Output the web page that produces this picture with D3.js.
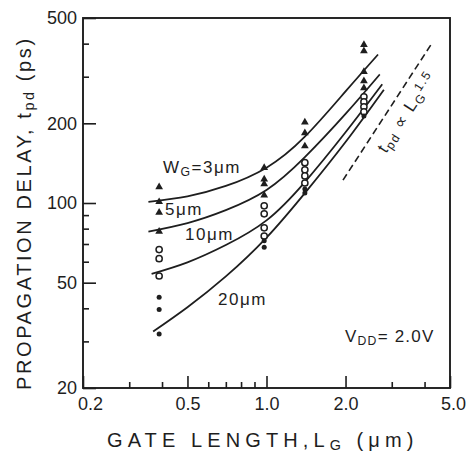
<!DOCTYPE html>
<html><head><meta charset="utf-8">
<script src="https://cdn.jsdelivr.net/npm/d3@7"></script>
<style>
body{margin:0;background:#fff}
svg{display:block}
text{font-family:"Liberation Sans",Arial,sans-serif;fill:#1e1e1e}
</style>
</head><body><svg id="c" width="470" height="456"></svg>
<script>
// ---- tick values / labels ----
const xMajorTicks = [0.2, 0.5, 1.0, 2.0, 5.0];
const xTickLabels = ["0.2", "0.5", "1.0", "2.0", "5.0"];
const xMinorTicks = [0.3, 0.4, 0.6, 0.7, 0.8, 0.9, 3, 4];
const yMajorTicks = [20, 50, 100, 200, 500];
const yTickLabels = ["20", "50", "100", "200", "500"];
const yMinorTicks = [30, 40, 60, 70, 80, 90, 300, 400];

// ---- measured points (gate length um, delay ps) ----
const triL = [0.39,0.39,0.39,0.39, 0.98,0.98,0.98,0.98, 1.4,1.4,1.4, 2.35,2.35,2.35,2.35,2.35];
const triT = [115,101,92,78, 136,123,118,107, 202,184,164, 396,375,313,289,272];
const openL = [0.39,0.39,0.39, 0.98,0.98,0.98,0.98, 1.4,1.4,1.4,1.4, 2.35,2.35,2.35,2.35];
const openT = [66.7,61.6,53, 97.6,91,80.6,75, 142,133.5,126.6,119, 252,241,231,221];
const dotL = [0.39,0.39,0.39, 0.98,0.98, 1.4,1.4, 2.35];
const dotT = [44,39.6,32, 72,68, 113,109, 213];

// ---- fitted curves for each gate width ----
const curveW3L  = [0.355,0.5,0.7,1.0,1.4,2.0,2.66];
const curveW3T  = [101,106,116,136,178,264,364];
const curveW5L  = [0.355,0.5,0.7,1.0,1.4,2.0,2.7];
const curveW5T  = [78,84,94,112,149,217,306];
const curveW10L = [0.365,0.5,0.7,1.0,1.4,2.0,2.76];
const curveW10T = [54,59.7,69.4,86,120,185,281];
const curveW20L = [0.37,0.5,0.7,1.0,1.4,2.0,2.8];
const curveW20T = [32.7,40.4,52.8,74,109,170,268];

// reference slope line  tpd ∝ LG^1.5
const refL = [1.956, 4.27];
const refT = [122, 402];

const svg = d3.select("#c");
const L = 83, R = 450, T = 18, B = 388;
const x = d3.scaleLog().domain([0.2, 5]).range([L, R]);
const y = d3.scaleLog().domain([20, 500]).range([B, T]);
const ink = "#1e1e1e";

// axes
const xMajor = d3.axisBottom(x).tickValues(xMajorTicks)
  .tickFormat((d,i)=>xTickLabels[i]).tickSize(-12).tickPadding(9);
const xMinor = d3.axisBottom(x).tickValues(xMinorTicks).tickFormat("").tickSize(-6);
const yMajor = d3.axisLeft(y).tickValues(yMajorTicks)
  .tickFormat((d,i)=>yTickLabels[i]).tickSize(-13).tickPadding(6);
const yMinor = d3.axisLeft(y).tickValues(yMinorTicks).tickFormat("").tickSize(-6);

function style(g){
  g.select(".domain").remove();
  g.selectAll("line").attr("stroke", ink).attr("stroke-width", 1.6);
  g.selectAll("text").attr("font-size", 18).attr("fill", ink)
   .attr("font-family", '"Liberation Sans",Arial,sans-serif');
}
const gx = svg.append("g").attr("transform", `translate(0,${B})`).call(xMajor).call(style);
svg.append("g").attr("transform", `translate(0,${B})`).call(xMinor).call(style);
const gy = svg.append("g").attr("transform", `translate(${L},0)`).call(yMajor).call(style);
svg.append("g").attr("transform", `translate(${L},0)`).call(yMinor).call(style);
gx.selectAll(".tick text").attr("dx", (d)=> d===0.2 ? 7 : (d===5 ? 3 : 0));

// frame
svg.append("rect").attr("x", L).attr("y", T).attr("width", R-L).attr("height", B-T)
  .attr("fill", "none").attr("stroke", ink).attr("stroke-width", 1.9);

// curves
const line = d3.line().x(d=>x(d[0])).y(d=>y(d[1])).curve(d3.curveNatural);
const curves = [[curveW3L,curveW3T],[curveW5L,curveW5T],[curveW10L,curveW10T],[curveW20L,curveW20T]];
curves.forEach(([ls,ts])=>{
  svg.append("path").datum(ls.map((v,i)=>[v,ts[i]])).attr("d", line)
    .attr("fill","none").attr("stroke",ink).attr("stroke-width",1.8);
});

// reference dashed line
svg.append("path").datum(refL.map((v,i)=>[v,refT[i]]))
  .attr("d", d3.line().x(d=>x(d[0])).y(d=>y(d[1])))
  .attr("fill","none").attr("stroke",ink).attr("stroke-width",1.6).attr("stroke-dasharray","7,4");

// markers
const tri = d3.symbol().type(d3.symbolTriangle).size(26);
svg.append("g").selectAll("path").data(triL.map((v,i)=>[v,triT[i]])).join("path")
  .attr("d", tri).attr("transform", d=>`translate(${x(d[0])},${y(d[1])})`).attr("fill", ink);
svg.append("g").selectAll("circle").data(openL.map((v,i)=>[v,openT[i]])).join("circle")
  .attr("cx", d=>x(d[0])).attr("cy", d=>y(d[1])).attr("r", 3.1)
  .attr("fill","#fff").attr("stroke",ink).attr("stroke-width",1.5);
svg.append("g").selectAll("circle").data(dotL.map((v,i)=>[v,dotT[i]])).join("circle")
  .attr("cx", d=>x(d[0])).attr("cy", d=>y(d[1])).attr("r", 2.5).attr("fill", ink);

// labels
function label(xp, yp, parts, size, ls){
  const t = svg.append("text").attr("x", xp).attr("y", yp).attr("font-size", size)
    .attr("letter-spacing", ls).attr("fill", ink);
  parts.forEach(p=>{
    const s = t.append("tspan").text(p.t);
    if (p.sub) s.attr("font-size", size*0.72).attr("baseline-shift", "-22%");
    if (p.sup) s.attr("font-size", size*0.72).attr("baseline-shift", "45%");
  });
  return t;
}
label(163, 173, [{t:"W"},{t:"G",sub:1},{t:"=3μm"}], 17, 1.5);
label(165, 215, [{t:"5μm"}], 17, 1.5);
label(185, 240, [{t:"10μm"}], 17, 1.5);
label(218, 305, [{t:"20μm"}], 17, 1.5);
label(345, 342, [{t:"V"},{t:"DD",sub:1},{t:"= 2.0V"}], 17, 1.2);

const rl = label(0, 0, [{t:"t"},{t:"pd",sub:1},{t:" ∝ L"},{t:"G",sub:1},{t:"1.5",sup:1}], 17, 1.5);
rl.attr("transform", "translate(386,154) rotate(-57)");

// axis titles
label(107, 447, [{t:"GATE LENGTH,L"},{t:"G",sub:1},{t:"  (μm)"}], 20, 5.1);
const yl = label(0, 0, [{t:"PROPAGATION DELAY, t"},{t:"pd",sub:1},{t:" (ps)"}], 20, 2.6);
yl.attr("transform", "translate(31,390) rotate(-90)");
</script></body></html>
